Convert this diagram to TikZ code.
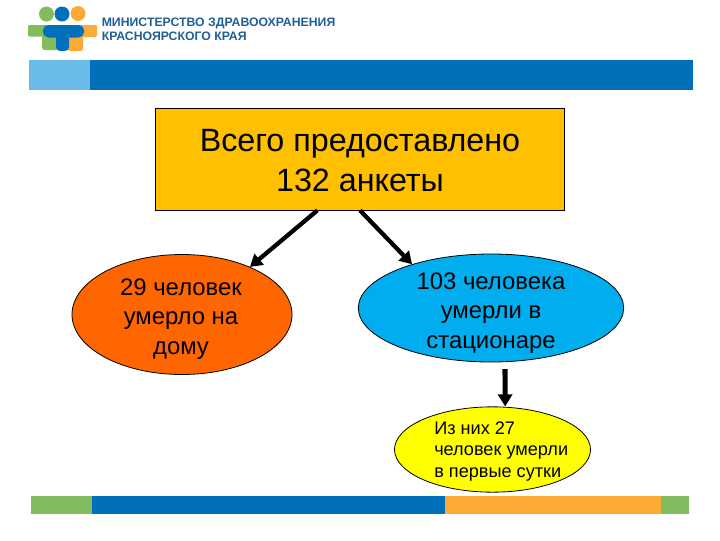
\documentclass[tikz,border=0pt]{standalone}
\usepackage{fontspec}
\setmainfont{Liberation Sans}
\usetikzlibrary{shapes.geometric,arrows.meta,calc}
\definecolor{bblue}{HTML}{0070BA}
\definecolor{lblue}{HTML}{6ABBEA}
\definecolor{bgreen}{HTML}{82BC5E}
\definecolor{borange}{HTML}{FBAB36}
\definecolor{topbox}{HTML}{FFC000}
\definecolor{ored}{HTML}{FF6600}
\definecolor{cyanb}{HTML}{00AEEF}
\definecolor{yel}{HTML}{FFFF00}
\definecolor{headtxt}{HTML}{1F5F96}
\tikzset{
  bubble/.style={ellipse,draw=black,line width=0.6pt,inner sep=0pt,text=black},
  bubbletxt/.style={inner sep=0pt,align=center,text=black,font=\fontsize{17.9}{22}\selectfont},
  conn/.style={draw=black,line width=3.2pt,-{Triangle[length=9pt,width=10.5pt]}},
  band/.style={fill=#1,draw=none},
  header/.style={font=\bfseries\fontsize{9.2}{10.5}\selectfont,text=headtxt,align=left,anchor=west,inner sep=0pt}
}
\begin{document}
\begin{tikzpicture}[x=0.75pt,y=-0.75pt]
\useasboundingbox (0,0) rectangle (720,540);
% logo
\fill[bgreen] (46.5,14) circle (7.5);
\fill[bblue] (62,14) circle (7.5);
\fill[borange] (78,13.5) circle (7.5);
\fill[bgreen,rounded corners=1pt] (28,25) rectangle (50,36.5);
\fill[borange,rounded corners=1pt] (78,25) rectangle (97,37);
\fill[bgreen,rounded corners=2pt] (42,30) rectangle (58,50);
\fill[borange,rounded corners=2pt] (67,30) rectangle (83,51);
\fill[bblue,rounded corners=4pt] (43,25) rectangle (84,37.5);
\fill[bblue,rounded corners=3pt] (56,30) rectangle (69,51);
\node[header] (head) at (101.5,29.5) {МИНИСТЕРСТВО ЗДРАВООХРАНЕНИЯ\\КРАСНОЯРСКОГО КРАЯ};
% bands
\fill[band=lblue] (29,60) rectangle (90,90);
\fill[band=bblue] (90,60) rectangle (693,90);
\fill[band=bgreen] (31,496) rectangle (92,514);
\fill[band=bblue] (92,496) rectangle (445,514);
\fill[band=borange] (445,496) rectangle (661,514);
\fill[band=bgreen] (661,496) rectangle (689,514);
% nodes
\node[draw=black,line width=0.6pt,fill=topbox,minimum width=307pt,minimum height=76.5pt,inner sep=0pt] (total) at (360,159) {};
\node[inner sep=0pt,align=center,text=black,font=\fontsize{24.2}{30}\selectfont] (totaltxt) at (360,161) {Всего предоставлено\\132 анкеты};
\node[bubble,fill=ored,minimum width=165pt,minimum height=90pt] (home) at (182,314.5) {};
\node[bubbletxt] (hometxt) at (181,319) {29 человек\\умерло на\\дому};
\node[bubble,fill=cyanb,minimum width=199pt,minimum height=81pt] (hosp) at (491,308) {};
\node[bubbletxt] (hosptxt) at (491,313) {103 человека\\умерли в\\стационаре};
\node[bubble,fill=yel,minimum width=147pt,minimum height=64pt] (first) at (492.5,449.5) {};
\node[anchor=west,inner sep=0pt,align=left,text=black,font=\fontsize{13.6}{16.2}\selectfont] (firsttxt) at (434,451.5) {Из них 27\\человек умерли\\в первые сутки};
% connectors
\draw[conn] ($(total.south west)!0.396!(total.south east)$) -- (home.35);
\draw[conn] ($(total.south west)!0.5!(total.south east)$) -- (hosp.151.5);
\draw[conn,line width=3.8pt] ([xshift=10.5pt,yshift=-5pt]hosp.south) -- ([xshift=9.5pt]first.north);
\end{tikzpicture}
\end{document}
